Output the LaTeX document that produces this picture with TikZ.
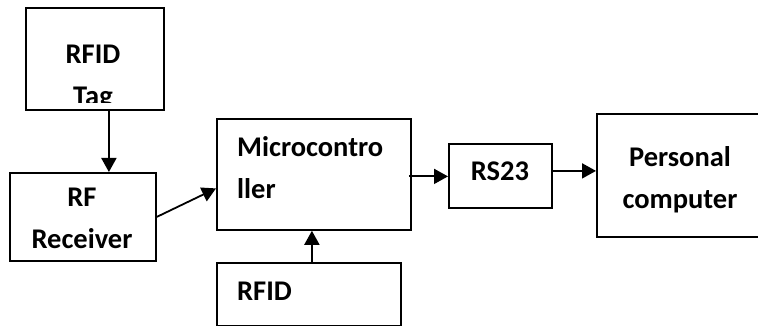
\documentclass[tikz,border=0pt]{standalone}
\usepackage{fontspec}
\setmainfont{Carlito}
\usepackage{tikz}
\usetikzlibrary{arrows.meta, positioning, calc}

\begin{document}
\begin{tikzpicture}[x=1pt, y=-1pt,
      block/.style={draw, line width=1.8pt, inner sep=0pt, anchor=north west},
      txt/.style={font=\fontsize{28.5}{42}\selectfont\bfseries, inner sep=0pt, anchor=base},
      arr/.style={-{Triangle[length=14pt, width=15pt]}, line width=1.8pt}
    ]
      \useasboundingbox (0,0) rectangle (758,326);

      % blocks
      \node[block, minimum width=138pt, minimum height=102pt] (tag) at (25,7) {};
      \node[block, minimum width=146pt, minimum height=88pt] (rfrx) at (9,172) {};
      \node[block, minimum width=194pt, minimum height=111pt] (mcu) at (216,118) {};
      \node[block, minimum width=184pt, minimum height=63pt] (rfid) at (216,262) {};
      \node[block, minimum width=103pt, minimum height=64pt] (rs) at (448,143) {};
      \node[block, minimum width=180pt, minimum height=123pt] (pc) at (596,113) {};

      % texts (base = last line)
      \begin{scope}
        \clip (tag.north west) rectangle ($(tag.south east)+(0,-8)$);
        \node[txt, align=center] (tagtxt) at (93,106) {RFID\\Tag};
      \end{scope}
      \node[txt, align=center] (rfrxtxt) at (82,248) {RF\\Receiver};
      \node[txt, align=left, anchor=base west] (mcutxt) at (237,198) {Microcontro\\ller};
      \node[txt, anchor=base west] (rfidtxt) at (237,300) {RFID};
      \node[txt] (rstxt) at (500,181) {RS23};
      \node[txt, align=center] (pctxt) at (680,208) {Personal\\computer};

      % connections
      \coordinate (tagout) at ($(tag.south)+(14,0)$);
      \draw[arr] (tagout) -- (tagout |- rfrx.north);
      \coordinate (mcuin) at ($(mcu.west)+(0,14)$);
      \draw[arr] (rfrx.east) -- (mcuin);
      \coordinate (rfidout) at ($(rfid.north)+(3,0)$);
      \draw[arr] (rfidout) -- (rfidout |- mcu.south);
      \coordinate (mcuout) at ($(mcu.east)+(-3,2)$);
      \draw[arr] (mcuout) -- (mcuout -| rs.west);
      \coordinate (rsout) at ($(rs.east)+(0,-5)$);
      \draw[arr] (rsout) -- (rsout -| pc.west);
    \end{tikzpicture}
\end{document}
